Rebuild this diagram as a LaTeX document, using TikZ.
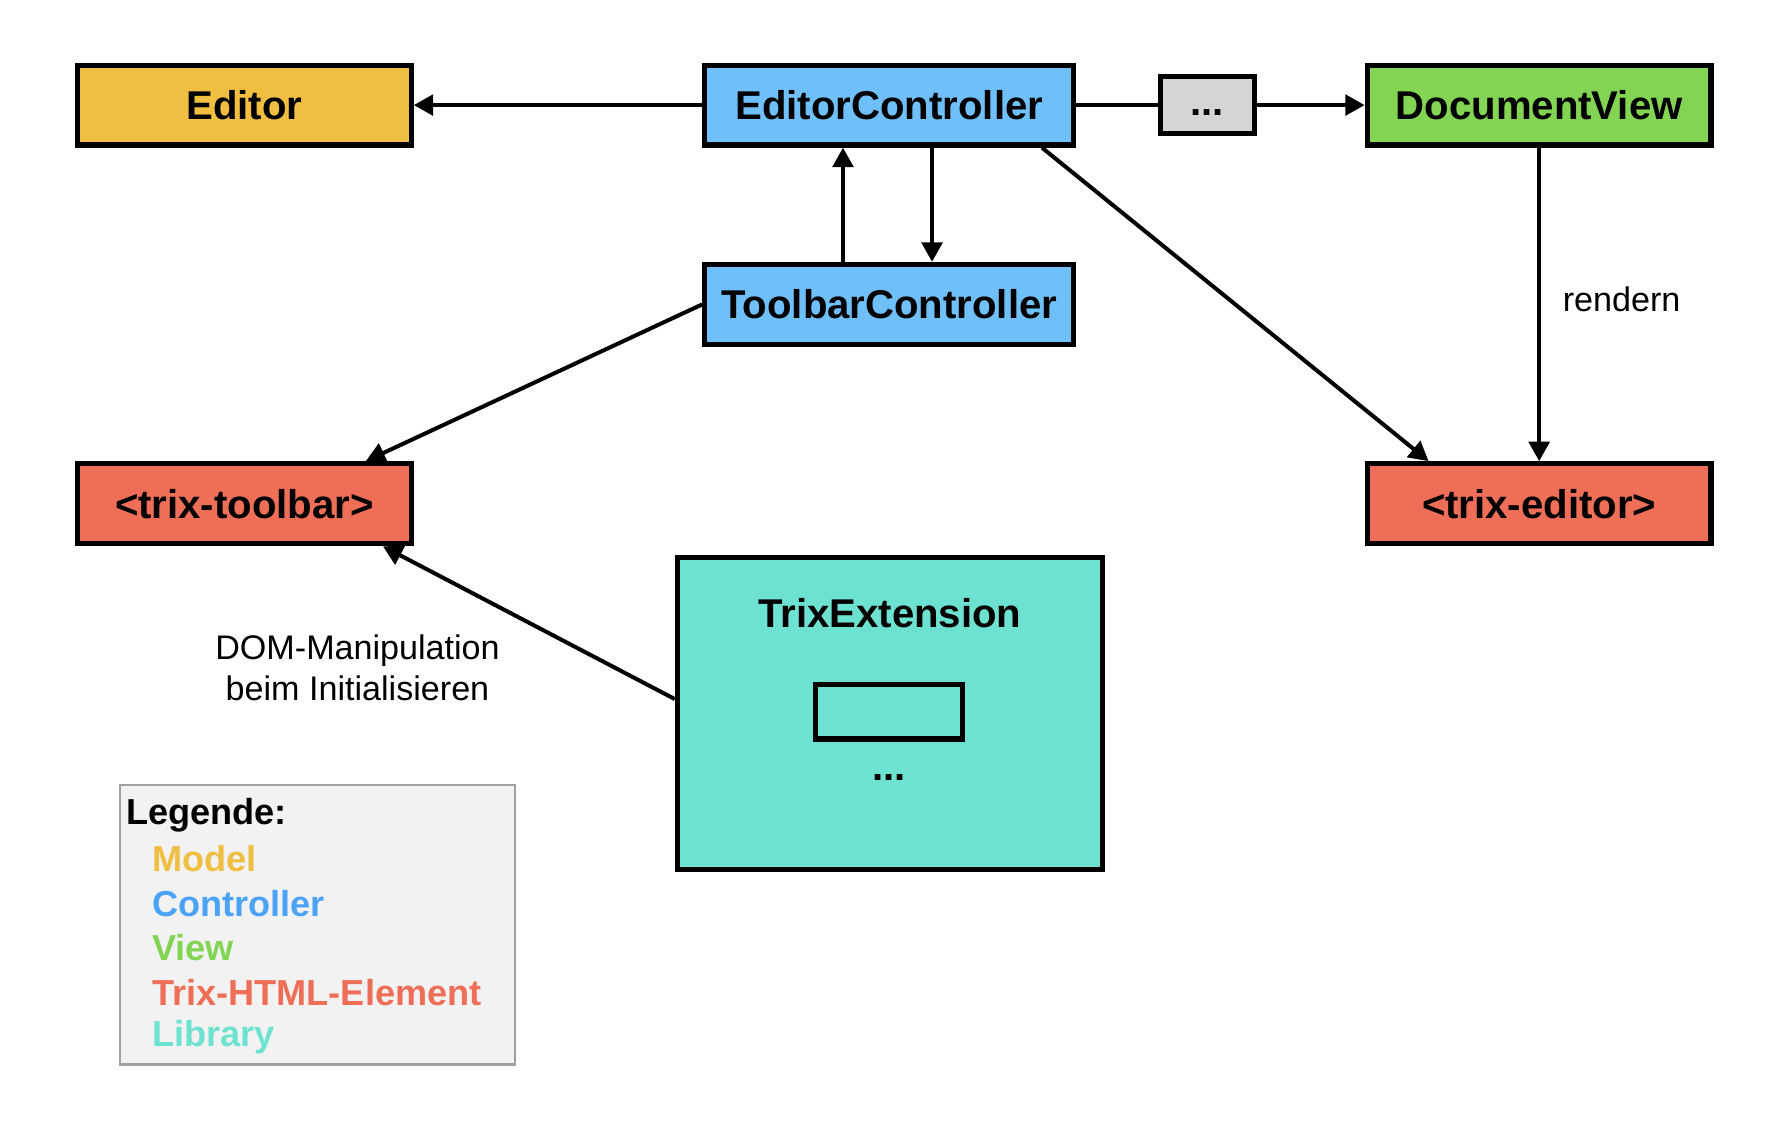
\documentclass[tikz,border=0pt]{standalone}
\usepackage{fontspec}
\setmainfont{Liberation Sans}
\usetikzlibrary{arrows.meta,positioning}

\definecolor{modelcol}{HTML}{F0BE41}
\definecolor{ctrlcol}{HTML}{6FBFF9}
\definecolor{ctrltext}{HTML}{4BA3F7}
\definecolor{viewcol}{HTML}{83D452}
\definecolor{trixcol}{HTML}{EF6E57}
\definecolor{libcol}{HTML}{6EE2D0}
\definecolor{dotscol}{HTML}{D5D5D5}
\definecolor{legcol}{HTML}{F2F2F2}
\definecolor{legborder}{HTML}{A0A0A0}

\tikzset{
  box/.style={draw, line width=2.6pt, minimum height=1.4cm, inner sep=0pt,
    font=\bfseries\fontsize{20}{24}\selectfont},
  pfeil/.style={line width=2pt, -{Triangle[length=0.34cm,width=0.36cm]}},
  plain/.style={font=\fontsize{17}{20.5}\selectfont, align=center, inner sep=0pt},
  legline/.style={anchor=west, inner sep=0pt, font=\bfseries\fontsize{18}{22}\selectfont},
}

\begin{document}
\begin{tikzpicture}[x=0.02cm, y=-0.02cm]
\useasboundingbox (0,0) rectangle (1568,994.6);

\node[box, fill=modelcol, minimum width=5.84cm] (editor) at (214,92) {Editor};
\node[box, fill=ctrlcol, minimum width=6.46cm] (ectrl) at (778.5,92) {EditorController};
\node[box, fill=dotscol, minimum width=1.64cm, minimum height=1cm,
  text height=14pt, text depth=4pt] (dots) at (1057,92) {...};
\node[box, fill=viewcol, minimum width=6.02cm] (docview) at (1347.5,92) {DocumentView};
\node[box, fill=ctrlcol, minimum width=6.46cm] (tctrl) at (778.5,266.5) {ToolbarController};
\node[box, fill=trixcol, minimum width=5.84cm] (toolbar) at (214,441) {<trix-toolbar>};
\node[box, fill=trixcol, minimum width=6.02cm] (trixed) at (1347.5,441) {<trix-editor>};

% Library
\node[box, fill=libcol, minimum width=7.44cm, minimum height=5.46cm] (ext) at (779,624.5) {};
\node[font=\bfseries\fontsize{20}{24}\selectfont, inner sep=0pt] (extname) at (779,537) {TrixExtension};
\node[draw, line width=2.6pt, fill=libcol, minimum width=2.58cm, minimum height=0.96cm] (inner) at (778.5,623) {};
\node[font=\bfseries\fontsize{20}{24}\selectfont, inner sep=0pt, anchor=base] (innerdots) at (778.5,683) {...};

% Verbindungen
\draw[pfeil] (ectrl) -- (editor);
\draw[line width=2pt] (ectrl) -- (dots);
\draw[pfeil] (dots) -- (docview);
\draw[pfeil] ([xshift=-0.81cm]tctrl.north) -- ([xshift=-0.81cm]ectrl.south);
\draw[pfeil] ([xshift=0.75cm]ectrl.south) -- ([xshift=0.75cm]tctrl.north);
\draw[pfeil] ([xshift=-0.6cm]ectrl.south east) -- ([xshift=1.12cm]trixed.north west);
\draw[pfeil] (docview) -- node[plain, right, xshift=0.38cm, yshift=0.09cm] (render) {rendern} (trixed);
\draw[pfeil] (tctrl.west) -- ([xshift=-0.84cm]toolbar.north east);
\draw[pfeil] ([yshift=0.25cm]ext.west) -- ([xshift=-0.54cm]toolbar.south east);
\node[plain] (dom) at (313,585) {DOM-Manipulation\\beim Initialisieren};

% Legende
\draw[legborder, fill=legcol, line width=1.2pt] (105,687) rectangle (451,932);
\node[legline] (leg) at (110,714) {Legende:};
\node[legline, text=modelcol] (lmodel) at (133,752) {Model};
\node[legline, text=ctrltext] (lctrl) at (133,791) {Controller};
\node[legline, text=viewcol] (lview) at (133,830) {View};
\node[legline, text=trixcol] (ltrix) at (133,869) {Trix-HTML-Element};
\node[legline, text=libcol] (llib) at (133,908) {Library};
\end{tikzpicture}
\end{document}
